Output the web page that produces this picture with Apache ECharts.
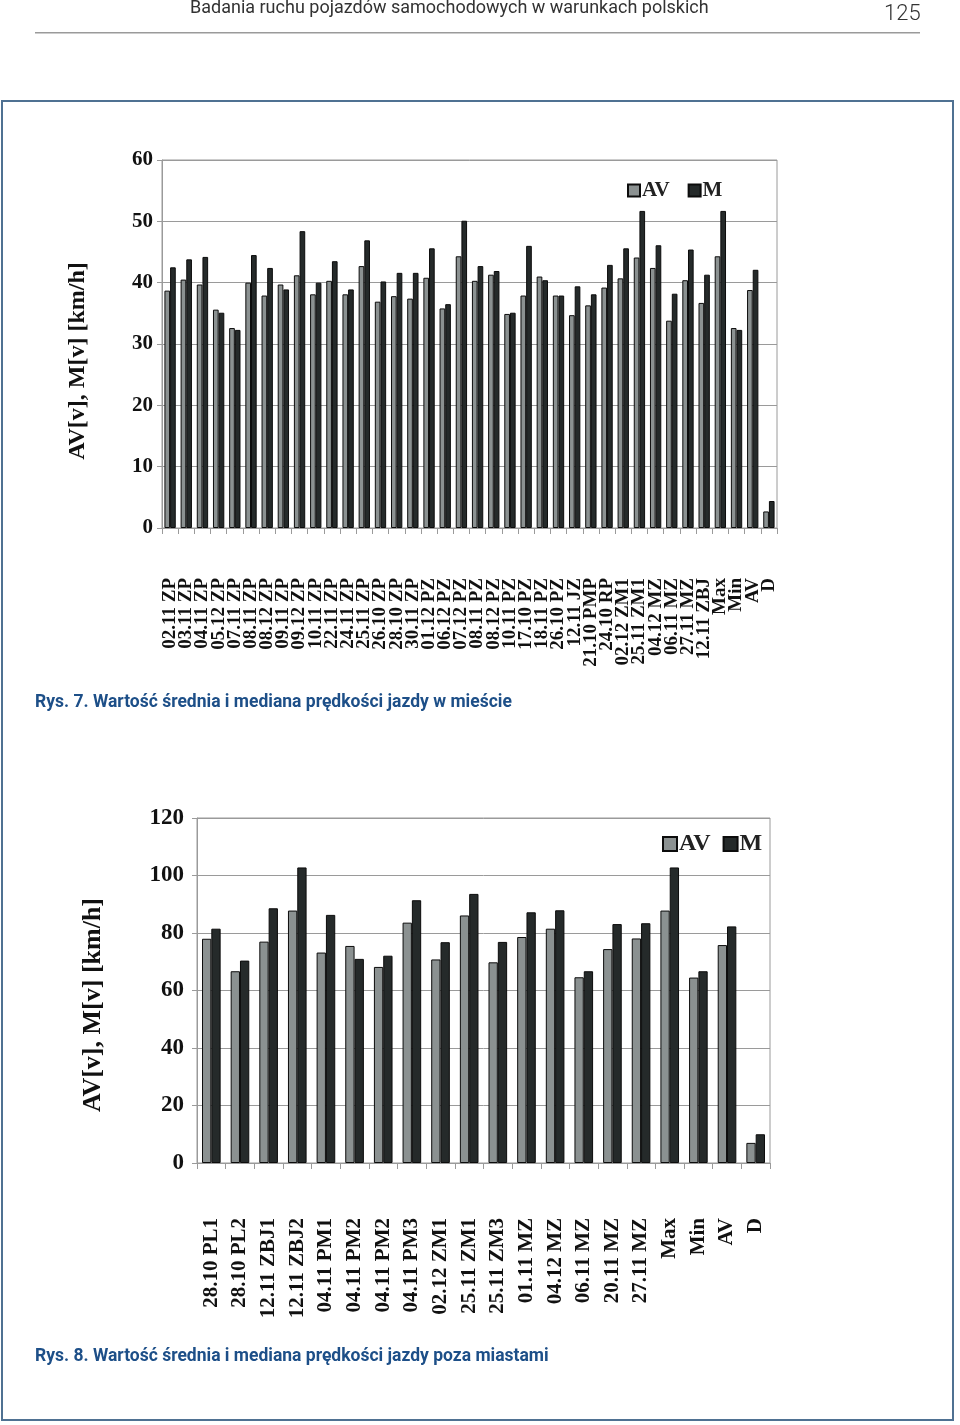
<!DOCTYPE html>
<html>
<head>
<meta charset="utf-8">
<script src="https://cdn.jsdelivr.net/npm/echarts@6/dist/echarts.min.js"></script>
<style>
html,body{margin:0;padding:0;background:#fff;}
#c{width:960px;height:1425px;}
</style>
</head>
<body>
<div id="c"></div>
<script>
// ---- Figure 7 (w mieście) ----
const cats1 = ['02.11 ZP','03.11 ZP','04.11 ZP','05.12 ZP','07.11 ZP','08.11 ZP','08.12 ZP','09.11 ZP','09.12 ZP','10.11 ZP','22.11 ZP','24.11 ZP','25.11 ZP','26.10 ZP','28.10 ZP','30.11 ZP','01.12 PZ','06.12 PZ','07.12 PZ','08.11 PZ','08.12 PZ','10.11 PZ','17.10 PZ','18.11 PZ','26.10 PZ','12.11 JZ','21.10 PMP','24.10 RP','02.12 ZM1','25.11 ZM1','04.12 MZ','06.11 MZ','27.11 MZ','12.11 ZBJ','Max','Min','AV','D'];
const av1 = [38.7,40.5,39.7,35.6,32.6,40.0,37.9,39.7,41.2,38.1,40.3,38.1,42.7,36.9,37.8,37.4,40.8,35.8,44.3,40.3,41.3,34.9,37.9,41.0,37.9,34.7,36.3,39.2,40.7,44.1,42.4,33.8,40.4,36.7,44.3,32.6,38.8,2.7];
const m1  = [42.5,43.8,44.2,35.1,32.3,44.5,42.4,38.9,48.4,40.0,43.5,38.9,46.9,40.2,41.6,41.6,45.6,36.5,50.1,42.7,41.9,35.1,46.0,40.4,37.9,39.4,38.1,42.9,45.6,51.7,46.1,38.2,45.4,41.3,51.7,32.3,42.1,4.4];

// ---- Figure 8 (poza miastami) ----
const cats2 = ['28.10 PL1','28.10 PL2','12.11 ZBJ1','12.11 ZBJ2','04.11 PM1','04.11 PM2','04.11 PM2','04.11 PM3','02.12 ZM1','25.11 ZM1','25.11 ZM3','01.11 MZ','04.12 MZ','06.11 MZ','20.11 MZ','27.11 MZ','Max','Min','AV','D'];
const av2 = [78.0,66.7,77.0,87.8,73.2,75.5,68.2,83.6,70.8,86.1,69.8,78.6,81.5,64.6,74.4,78.1,87.8,64.5,75.8,7.0];
const m2  = [81.5,70.4,88.6,102.8,86.3,71.0,72.1,91.4,76.8,93.6,76.9,87.2,87.9,66.7,83.1,83.4,102.8,66.7,82.3,10.0];

const yTitle = 'AV[v], M[v] [km/h]';
const headerText = 'Badania ruchu pojazdów samochodowych w warunkach polskich';
const pageNo = '125';
const cap1 = 'Rys. 7. Wartość średnia i mediana prędkości jazdy w mieście';
const cap2 = 'Rys. 8. Wartość średnia i mediana prędkości jazdy poza miastami';

const serif = '"Liberation Serif","DejaVu Serif",serif';
const gridCol = '#9a9a9a';
const avColor = '#8b9191';
const mColor = '#252a2a';

const chart = echarts.init(document.getElementById('c'), null, {renderer:'canvas'});

function xAxisCfg(idx, cats, fs, margin){
  return {
    type:'category', gridIndex:idx, data:cats,
    axisLine:{show:true, lineStyle:{color:gridCol, width:1}},
    axisTick:{show:true, length:6, lineStyle:{color:gridCol}},
    axisLabel:{interval:0, rotate:90, margin:margin, color:'#111',
      fontFamily:serif, fontWeight:'bold', fontSize:fs},
    splitLine:{show:false}
  };
}
function yAxisCfg(idx, max, interval, fs, margin){
  return {
    type:'value', gridIndex:idx, min:0, max:max, interval:interval,
    axisLine:{show:true, lineStyle:{color:gridCol, width:1}},
    axisTick:{show:true, length:5, lineStyle:{color:gridCol}},
    axisLabel:{margin:margin, color:'#111', fontFamily:serif, fontWeight:'bold', fontSize:fs},
    splitLine:{show:true, lineStyle:{color:gridCol, width:1}}
  };
}
function barSeries(name, data, xi, yi, color, gap){
  return {
    type:'bar', name:name, data:data, xAxisIndex:xi, yAxisIndex:yi,
    barGap:'0%', barCategoryGap:gap, animation:false,
    itemStyle:{color:color, borderColor:'#0c0c0c', borderWidth:1}
  };
}

const option = {
  animation:false,
  grid:[
    {left:162, top:160, width:615, height:368, show:true, borderColor:gridCol, borderWidth:1, backgroundColor:'transparent'},
    {left:197, top:818, width:573, height:345, show:true, borderColor:gridCol, borderWidth:1, backgroundColor:'transparent'}
  ],
  xAxis:[ xAxisCfg(0, cats1, 19, 50), xAxisCfg(1, cats2, 21, 55) ],
  yAxis:[ yAxisCfg(0, 60, 10, 21, 9), yAxisCfg(1, 120, 20, 23, 13) ],
  legend:[
    {left:622, top:175, itemWidth:12, itemHeight:12, itemGap:18, icon:'rect',
     data:['AV','M'], selectedMode:false,
     textStyle:{fontFamily:serif, fontWeight:'bold', fontSize:21, color:'#222', padding:[0,0,0,-3]}},
    {left:657, top:827, itemWidth:14, itemHeight:14, itemGap:12, icon:'rect',
     data:['AV','M'], selectedMode:false,
     textStyle:{fontFamily:serif, fontWeight:'bold', fontSize:24, color:'#222', padding:[0,0,0,-3]}}
  ],
  series:[
    barSeries('AV', av1, 0, 0, avColor, '30%'),
    barSeries('M', m1, 0, 0, mColor, '30%'),
    barSeries('AV', av2, 1, 1, avColor, '35%'),
    barSeries('M', m2, 1, 1, mColor, '35%')
  ],
  graphic:[
    {type:'text', left:190, top:-1, style:{text:headerText, font:'400 18px Roboto, sans-serif', fill:'#333'}},
    {type:'text', left:884, top:3, style:{text:pageNo, font:'300 22px Roboto, sans-serif', fill:'#333'}},
    {type:'rect', shape:{x:35, y:32, width:885, height:1.5}, style:{fill:'#9a9a9a'}},
    {type:'rect', shape:{x:2, y:101, width:951, height:1319}, style:{fill:'none', stroke:'#4f7192', lineWidth:2}},
    {type:'text', x:78, y:361, rotation:Math.PI/2,
     style:{text:yTitle, font:'bold 24px "Liberation Serif", serif', fill:'#111', align:'center', verticalAlign:'middle'}},
    {type:'text', x:93, y:1005, rotation:Math.PI/2,
     style:{text:yTitle, font:'bold 26px "Liberation Serif", serif', fill:'#111', align:'center', verticalAlign:'middle'}},
    {type:'text', left:35, top:694, style:{text:cap1, font:'bold 17.5px Roboto, sans-serif', fill:'#1d4f88'}},
    {type:'text', left:35, top:1348, style:{text:cap2, font:'bold 17.5px Roboto, sans-serif', fill:'#1d4f88'}}
  ]
};
chart.setOption(option);
</script>
</body>
</html>
